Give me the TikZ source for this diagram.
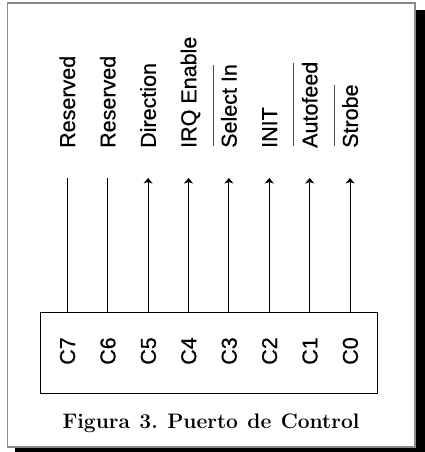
\documentclass[tikz,border=0pt]{standalone}
\usepackage{fontspec}
\setmainfont{Latin Modern Roman}
\newfontfamily\arialfont[FakeBold=0.6]{Liberation Sans}
\usetikzlibrary{arrows.meta}
\definecolor{framegray}{RGB}{140,140,140}
\begin{document}
\begin{tikzpicture}[x=1pt,y=-1pt,
  lbl/.style={rotate=90,anchor=west,inner sep=0pt,font=\arialfont\fontsize{21.5}{24}\selectfont,text height=15.4pt,text depth=0pt},
  pin/.style={rotate=90,anchor=center,inner sep=0pt,font=\arialfont\fontsize{21.5}{24}\selectfont,text height=15.4pt,text depth=0pt},
  sig/.style={line width=0.9pt,black},
  arr/.style={sig,-{Stealth[length=5.5pt,width=9pt,inset=1.5pt]}},
  ovl/.style={line width=0.9pt,black!70}
]
\useasboundingbox (0,0) rectangle (425,452);
% shadow and frame
\fill[black] (15,10) rectangle (425,452);
\draw[framegray,line width=1.5pt,fill=white] (7.5,3) rectangle (415,447);
% register box
\node[draw,line width=0.9pt,minimum width=337pt,minimum height=80.6pt,inner sep=0pt] (box) at (209.2,353) {};
% pin labels
\foreach \i/\x in {7/67.3,6/107.7,5/148.1,4/188.5,3/228.9,2/269.3,1/309.7,0/350.1}{
  \node[pin] (c\i) at (\x,351) {C\i};
  \coordinate (b\i) at (\x,312.7);
  \coordinate (t\i) at (\x,178);
}
% signal labels
\node[lbl] (l7) at (67.3,148) {Reserved};
\node[lbl] (l6) at (107.7,148) {Reserved};
\node[lbl] (l5) at (148.1,148) {Direction};
\node[lbl] (l4) at (188.5,148) {IRQ Enable};
\node[lbl] (l3) at (228.9,148) {Select In};
\node[lbl] (l2) at (269.3,148) {INIT};
\node[lbl] (l1) at (309.7,148) {Autofeed};
\node[lbl] (l0) at (350.1,148) {Strobe};
% overlines (active low)
\foreach \n in {l3,l1,l0}{
  \draw[ovl] ([xshift=-8pt,yshift=2pt]\n.north west) -- ([xshift=-8pt,yshift=-1pt]\n.north east);
}
% connectors
\draw[sig] (b7) -- (t7);
\draw[sig] (b6) -- (t6);
\foreach \i in {5,4,3,2,1,0}{
  \draw[arr] (b\i) -- (t\i);
}
% caption
\node[anchor=base,inner sep=0pt,font=\bfseries\fontsize{21}{24}\selectfont] (cap) at (211,428) {Figura\hspace{0.45em}3.\hspace{0.45em}Puerto\hspace{0.45em}de\hspace{0.45em}Control};
\end{tikzpicture}
\end{document}
